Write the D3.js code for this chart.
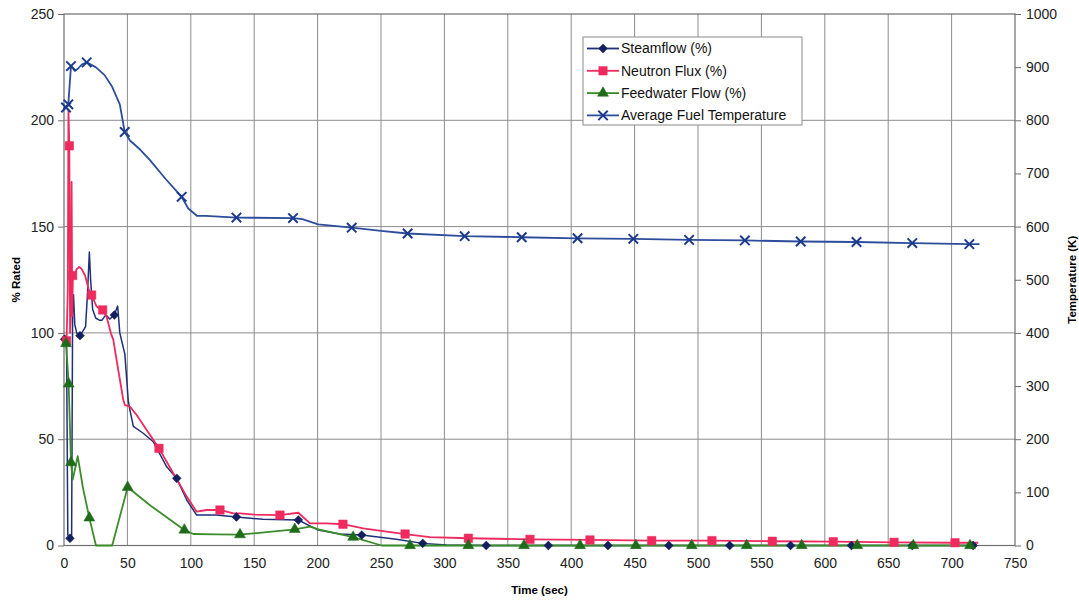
<!DOCTYPE html>
<html>
<head>
<meta charset="utf-8">
<script src="https://cdn.jsdelivr.net/npm/d3@7"></script>
<style>
  body { margin: 0; background: #fff; }
  svg { display: block; font-family: "Liberation Sans", Arial, sans-serif; }
</style>
</head>
<body>
<div id="chart"></div>
<script>
const width = 1079;
const height = 601;
const margin = { top: 14, right: 64, bottom: 55.5, left: 64 };

// time (sec) ticks and axis ticks
const timeTicks = d3.range(0, 751, 50);
const pctTicks = d3.range(0, 251, 50);
const tempTicks = d3.range(0, 1001, 100);

// Steamflow (%)
const steamLine = [
  [0, 97], [2, 96], [3, 5], [4.7, 3.4], [6, 3], [6.8, 110], [7.5, 118], [8.5, 104],
  [10, 100], [12.6, 98.7], [15, 101], [17, 103], [18.5, 118], [20, 138], [21, 125],
  [22.6, 111], [25, 107], [27.8, 106], [30, 106], [33, 108.5], [36, 106.5], [39.7, 108.4],
  [42.3, 112.6], [44, 100], [46, 95], [48, 90], [50.7, 68], [52, 63.7], [54.7, 56],
  [62.5, 52.8], [70.4, 48.8], [81, 37], [88.9, 31.6], [96.8, 21.4], [104.6, 14.3],
  [120, 14.3], [136, 13.4], [157, 12.3], [184.8, 12], [192.7, 9.6], [200.6, 7.3],
  [217.7, 5.4], [234.8, 4.9], [262, 2.9], [282.9, 1], [302, 0.2], [333, 0], [720, 0]
];
const steamMarks = [
  [0.5, 97], [4.7, 3.4], [12.6, 98.7], [39.7, 108.4], [88.9, 31.6], [136, 13.4],
  [184.8, 12], [234.8, 4.9], [282.9, 1], [333, 0], [382, 0], [429, 0], [477, 0],
  [525, 0], [573, 0], [621, 0], [669, 0], [717, 0]
];

// Neutron Flux (%)
const fluxLine = [
  [0, 97], [2, 96.3], [3, 120], [3.5, 205], [4.2, 188], [4.8, 100], [5.5, 110],
  [6, 171], [6.5, 108], [7, 127], [8, 127], [10, 130], [12, 131], [14, 130],
  [16.6, 127], [20, 119.4], [21.8, 117.8], [25.8, 112.3], [30.5, 110.8], [33.6, 107.6],
  [37, 99.8], [38.9, 96.7], [42.8, 82.5], [46.8, 68.4], [48.1, 66], [52, 65.3],
  [57.3, 61.4], [65.2, 54.3], [74.9, 45.7], [86.2, 34], [96.8, 23], [104.6, 15.9],
  [112.5, 16.7], [123, 16.7], [133.5, 15.1], [138.8, 15.1], [150, 14.5], [170.3, 14.3],
  [184.8, 15.4], [194, 10.4], [207, 10.4], [220, 10], [236, 8.1], [254.5, 6.5],
  [269, 5.4], [288.6, 3.9], [318.9, 3.4], [367.5, 2.9], [414.8, 2.6], [463.5, 2.3],
  [511, 2.3], [558.6, 2], [606.7, 1.8], [654.6, 1.5], [702.7, 1.3], [721, 1.3]
];
const fluxMarks = [
  [2, 96.3], [4.2, 188], [6.8, 127], [21.8, 117.8], [30.5, 110.8], [74.9, 45.7],
  [123, 16.7], [170.3, 14.3], [220, 10], [269, 5.4], [318.9, 3.4], [367.5, 2.9],
  [414.8, 2.6], [463.5, 2.3], [511, 2.3], [558.6, 2], [606.7, 1.8], [654.6, 1.5],
  [702.7, 1.3]
];

// Feedwater Flow (%)
const feedLine = [
  [0, 96], [1.6, 95], [3.7, 76], [5.5, 39], [6.9, 31], [10.8, 42], [15, 27], [20, 13],
  [25.2, 0], [38, 0], [50.2, 27.4], [68.6, 18.6], [94.9, 7.3], [102, 5.4], [120, 5.2],
  [138.8, 5.1], [160, 6.3], [182, 7.6], [194, 8.9], [200.6, 7.6], [228, 3.9],
  [250.5, 0], [720, 0]
];
const feedMarks = [
  [1.6, 95], [3.7, 76], [5.5, 39], [20, 13], [50.2, 27.4], [94.9, 7.3], [138.8, 5.1],
  [182, 7.6], [228, 3.9], [272.9, 0], [318.9, 0], [362.8, 0], [407, 0], [451, 0],
  [495, 0], [538.4, 0], [581.8, 0], [625.6, 0], [669.8, 0], [714.5, 0]
];

// Average Fuel Temperature (K)
const tempLine = [
  [0, 822], [1.6, 824], [3.4, 830], [5.5, 902], [6.5, 900], [8.4, 893], [11, 897],
  [14, 905], [17.9, 909], [25, 900], [32, 885], [38, 863], [44, 830], [47.9, 778],
  [52, 762], [60, 745], [67.8, 725], [80, 690], [92.8, 656], [98, 634], [105, 620],
  [112, 620], [136, 617], [180.6, 616], [188, 614], [200.5, 604], [226.9, 598],
  [250, 592], [271, 587], [316, 582], [361, 580], [405, 578], [449, 577], [493, 575],
  [537, 574], [581, 572], [625, 571], [669, 569], [714, 567], [722, 567]
];
const tempMarks = [
  [1.6, 824], [3.4, 830], [5.5, 902], [17.9, 909], [47.9, 778], [92.8, 656],
  [136, 617], [180.6, 616], [226.9, 598], [271, 587], [316, 582], [361, 580],
  [405, 578], [449, 577], [493, 575], [537, 574], [581, 572], [625, 571], [669, 569],
  [714, 567]
];

const diamond = d3.symbolDiamond2 || d3.symbolDiamond;

const series = [
  { name: "Steamflow (%)", line: steamLine, marks: steamMarks, axis: "pct",
    color: "#1f2f78", markColor: "#14205e", symbol: diamond, size: 50, width: 1.5 },
  { name: "Neutron Flux (%)", line: fluxLine, marks: fluxMarks, axis: "pct",
    color: "#ef2a5e", markColor: "#ef2a5e", symbol: d3.symbolSquare, size: 72, width: 1.8 },
  { name: "Feedwater Flow (%)", line: feedLine, marks: feedMarks, axis: "pct",
    color: "#3b8c2a", markColor: "#1e6b1a", symbol: d3.symbolTriangle, size: 52, width: 1.8 },
  { name: "Average Fuel Temperature", line: tempLine, marks: tempMarks, axis: "temp",
    color: "#2c4c9c", markColor: "#1c3a8c", symbol: d3.symbolX, size: 60, width: 1.8 },
];

const svg = d3.select("#chart").append("svg")
  .attr("width", width)
  .attr("height", height);

const x = d3.scaleLinear().domain([0, 750]).range([margin.left, width - margin.right]);
const yPct = d3.scaleLinear().domain([0, 250]).range([height - margin.bottom, margin.top]);
const yTemp = d3.scaleLinear().domain([0, 1000]).range([height - margin.bottom, margin.top]);

// gridlines
svg.append("g")
  .selectAll("line")
  .data(timeTicks.slice(1, -1))
  .join("line")
  .attr("x1", (d) => x(d)).attr("x2", (d) => x(d))
  .attr("y1", margin.top).attr("y2", height - margin.bottom)
  .attr("stroke", "#8c8c8c").attr("stroke-width", 1);
svg.append("g")
  .selectAll("line")
  .data(pctTicks.slice(1, -1))
  .join("line")
  .attr("x1", margin.left).attr("x2", width - margin.right)
  .attr("y1", (d) => yPct(d)).attr("y2", (d) => yPct(d))
  .attr("stroke", "#8c8c8c").attr("stroke-width", 1);

// frame
svg.append("rect")
  .attr("x", margin.left).attr("y", margin.top)
  .attr("width", width - margin.left - margin.right)
  .attr("height", height - margin.top - margin.bottom)
  .attr("fill", "none").attr("stroke", "#6e6e6e").attr("stroke-width", 1.2);

// axes
const styleAxis = (g) => {
  g.select(".domain").remove();
  g.selectAll(".tick line").attr("stroke", "#6e6e6e");
  g.selectAll(".tick text").attr("fill", "#222").style("font-size", "14px");
};

svg.append("g")
  .attr("transform", `translate(0, ${height - margin.bottom})`)
  .call(d3.axisBottom(x).tickValues(timeTicks).tickSize(0).tickPadding(13))
  .call(styleAxis);

svg.append("g")
  .attr("transform", `translate(${margin.left}, 0)`)
  .call(d3.axisLeft(yPct).tickValues(pctTicks).tickSize(6).tickPadding(4))
  .call(styleAxis);

svg.append("g")
  .attr("transform", `translate(${width - margin.right}, 0)`)
  .call(d3.axisRight(yTemp).tickValues(tempTicks).tickFormat(d3.format("d"))
    .tickSize(6).tickPadding(5))
  .call(styleAxis);

// axis titles
svg.append("text")
  .attr("x", (margin.left + width - margin.right) / 2)
  .attr("y", 594)
  .attr("text-anchor", "middle")
  .style("font-size", "11.5px").style("font-weight", "bold")
  .text("Time (sec)");

svg.append("text")
  .attr("transform", `translate(20, ${(margin.top + height - margin.bottom) / 2}) rotate(-90)`)
  .attr("text-anchor", "middle")
  .style("font-size", "11.5px").style("font-weight", "bold")
  .text("% Rated");

svg.append("text")
  .attr("transform", `translate(1076, ${(margin.top + height - margin.bottom) / 2}) rotate(-90)`)
  .attr("text-anchor", "middle")
  .style("font-size", "11.5px").style("font-weight", "bold")
  .text("Temperature (K)");

// series
const plot = svg.append("g");
series.forEach((s) => {
  const yS = s.axis === "pct" ? yPct : yTemp;
  const line = d3.line()
    .x((d) => x(d[0]))
    .y((d) => yS(d[1]));
  plot.append("path")
    .datum(s.line)
    .attr("d", line)
    .attr("fill", "none")
    .attr("stroke", s.color)
    .attr("stroke-width", s.width)
    .attr("stroke-linejoin", "round");
});
series.forEach((s) => {
  const yS = s.axis === "pct" ? yPct : yTemp;
  const sym = d3.symbol().type(s.symbol).size(s.size);
  plot.append("g")
    .selectAll("path")
    .data(s.marks)
    .join("path")
    .attr("transform", (d) => `translate(${x(d[0])}, ${yS(d[1])})`)
    .attr("d", sym)
    .attr("fill", s.symbol === d3.symbolX ? "none" : s.markColor)
    .attr("stroke", s.markColor)
    .attr("stroke-width", s.symbol === d3.symbolX ? 2 : 0.5);
});

// legend
const legend = svg.append("g").attr("transform", "translate(583, 37)");
legend.append("rect")
  .attr("width", 219).attr("height", 88)
  .attr("fill", "#fff").attr("stroke", "#8a8a8a");
const items = legend.selectAll(".item")
  .data(series)
  .join("g")
  .attr("class", "item")
  .attr("transform", (d, i) => `translate(0, ${11.5 + i * 22.3})`);
items.append("line")
  .attr("x1", 4).attr("x2", 36)
  .attr("stroke", (d) => d.color).attr("stroke-width", 1.8);
items.append("path")
  .attr("transform", "translate(20, 0)")
  .attr("d", (d) => d3.symbol().type(d.symbol).size(d.size)())
  .attr("fill", (d) => (d.symbol === d3.symbolX ? "none" : d.markColor))
  .attr("stroke", (d) => d.markColor)
  .attr("stroke-width", (d) => (d.symbol === d3.symbolX ? 2 : 0.5));
items.append("text")
  .attr("x", 38)
  .attr("dy", "0.35em")
  .style("font-size", "14px")
  .attr("fill", "#111")
  .text((d) => d.name);
</script>
</body>
</html>
